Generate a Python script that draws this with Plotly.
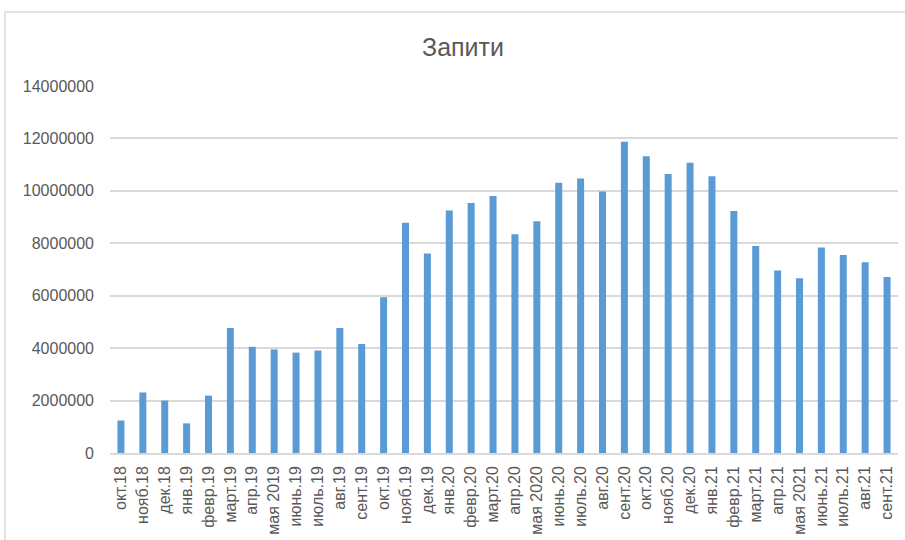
import plotly.graph_objects as go

# Monthly totals, October 2018 – September 2021
months = [
    "окт.18", "нояб.18", "дек.18", "янв.19", "февр.19", "март.19",
    "апр.19", "мая 2019", "июнь.19", "июль.19", "авг.19", "сент.19",
    "окт.19", "нояб.19", "дек.19", "янв.20", "февр.20", "март.20",
    "апр.20", "мая 2020", "июнь.20", "июль.20", "авг.20", "сент.20",
    "окт.20", "нояб.20", "дек.20", "янв.21", "февр.21", "март.21",
    "апр.21", "мая 2021", "июнь.21", "июль.21", "авг.21", "сент.21",
]
requests = [
    1240000, 2310000, 2000000, 1130000, 2190000, 4770000,
    4050000, 3950000, 3830000, 3910000, 4770000, 4160000,
    5940000, 8780000, 7610000, 9250000, 9540000, 9800000,
    8340000, 8840000, 10310000, 10470000, 9980000, 11870000,
    11320000, 10640000, 11070000, 10560000, 9230000, 7900000,
    6960000, 6670000, 7840000, 7550000, 7280000, 6710000,
]
y_ticks = [0, 2000000, 4000000, 6000000, 8000000, 10000000, 12000000, 14000000]

W, H = 905, 540
L, R, T, B = 110, 7, 86, 87

fig = go.Figure(
    go.Bar(
        x=months,
        y=requests,
        marker=dict(color="#5B9BD5", line=dict(width=0)),
    )
)

font_family = "Liberation Sans Narrow, Liberation Sans, Arial, sans-serif"
text_color = "#595959"

# light frame around the whole chart area
pw, ph = W - L - R, H - T - B
fig.add_shape(
    type="rect", xref="paper", yref="paper",
    x0=(5 - L) / pw, x1=(W + 5 - L) / pw,
    y0=-(H + 10 - T - ph) / ph, y1=1 + (T - 12) / ph,
    line=dict(color="#D9D9D9", width=1.5), fillcolor="rgba(0,0,0,0)",
    layer="below",
)

fig.update_layout(
    width=W, height=H,
    margin=dict(l=L, r=R, t=T, b=B, autoexpand=False),
    paper_bgcolor="white", plot_bgcolor="white",
    bargap=0.68,
    showlegend=False,
    title=dict(
        text="Запити", x=463 / W, xref="container", xanchor="center",
        y=1 - 47 / H, yanchor="middle",
        font=dict(family=font_family, size=25, color=text_color),
    ),
    font=dict(family=font_family, color=text_color),
)
fig.update_xaxes(
    type="category",
    tickangle=-90,
    tickfont=dict(size=16, color=text_color),
    showgrid=False,
    showline=True, linecolor="#D9D9D9", linewidth=1.5,
    ticks="", ticklabelstandoff=5,
    automargin=False,
)
fig.update_yaxes(
    range=[0, 14000000],
    tickvals=y_ticks,
    ticktext=[str(v) for v in y_ticks],
    tickfont=dict(size=16, color=text_color),
    showgrid=True, gridcolor="#D9D9D9", gridwidth=1.5,
    zeroline=False, showline=False,
    ticks="", ticklabelstandoff=15,
    automargin=False,
)

fig.write_html("out.html")
